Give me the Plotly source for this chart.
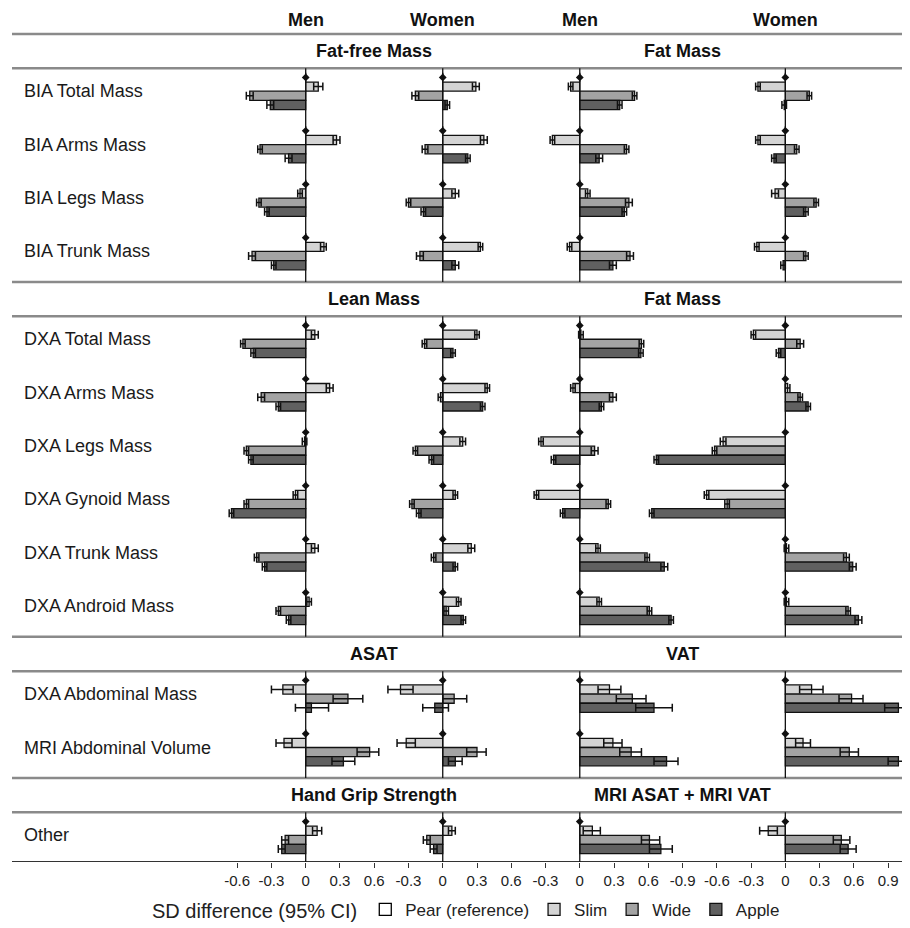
import plotly.graph_objects as go

# ---------------- data ----------------
row_labels = ["BIA Total Mass", "BIA Arms Mass", "BIA Legs Mass", "BIA Trunk Mass",
              "DXA Total Mass", "DXA Arms Mass", "DXA Legs Mass", "DXA Gynoid Mass",
              "DXA Trunk Mass", "DXA Android Mass",
              "DXA Abdominal Mass", "MRI Abdominal Volume", "Other"]
section_sizes = [4, 6, 2, 1]
left_strips = ["Fat-free Mass", "Lean Mass", "ASAT", "Hand Grip Strength"]
right_strips = ["Fat Mass", "Fat Mass", "VAT", "MRI ASAT + MRI VAT"]
panel_titles = ["Men", "Women", "Men", "Women"]
panel_ticks = [[-0.6, -0.3, 0, 0.3, 0.6],
               [-0.3, 0, 0.3, 0.6],
               [-0.3, 0, 0.3, 0.6],
               [-0.9, -0.6, -0.3, 0, 0.3, 0.6, 0.9]]
series_names = ["Slim", "Wide", "Apple"]

# Panel 1: Men, fat-free / lean / ASAT / grip
men_ffm_slim_est = [0.11, 0.27, -0.05, 0.16, 0.08, 0.21, -0.01, -0.09, 0.08, 0.03, -0.20, -0.19, 0.10]
men_ffm_slim_lo = [0.07, 0.24, -0.07, 0.13, 0.05, 0.18, -0.03, -0.11, 0.05, 0.01, -0.30, -0.26, 0.06]
men_ffm_slim_hi = [0.15, 0.30, -0.03, 0.18, 0.11, 0.24, 0.01, -0.07, 0.11, 0.05, -0.11, -0.12, 0.14]
men_ffm_wide_est = [-0.49, -0.40, -0.41, -0.47, -0.55, -0.39, -0.52, -0.52, -0.43, -0.24, 0.37, 0.56, -0.18]
men_ffm_wide_lo = [-0.52, -0.42, -0.43, -0.50, -0.57, -0.42, -0.54, -0.54, -0.45, -0.26, 0.24, 0.45, -0.21]
men_ffm_wide_hi = [-0.46, -0.38, -0.39, -0.44, -0.53, -0.36, -0.50, -0.50, -0.41, -0.22, 0.50, 0.64, -0.15]
men_ffm_apple_est = [-0.31, -0.15, -0.34, -0.28, -0.46, -0.24, -0.48, -0.65, -0.36, -0.15, 0.05, 0.33, -0.21]
men_ffm_apple_lo = [-0.34, -0.18, -0.36, -0.30, -0.48, -0.26, -0.50, -0.67, -0.38, -0.17, -0.09, 0.23, -0.24]
men_ffm_apple_hi = [-0.28, -0.12, -0.32, -0.26, -0.44, -0.22, -0.46, -0.63, -0.34, -0.13, 0.20, 0.43, -0.18]

# Panel 2: Women, fat-free / lean / ASAT / grip
women_ffm_slim_est = [0.29, 0.36, 0.11, 0.33, 0.30, 0.39, 0.175, 0.11, 0.25, 0.14, -0.37, -0.32, 0.08]
women_ffm_slim_lo = [0.26, 0.33, 0.08, 0.31, 0.28, 0.37, 0.15, 0.09, 0.22, 0.12, -0.48, -0.40, 0.05]
women_ffm_slim_hi = [0.32, 0.39, 0.14, 0.35, 0.32, 0.41, 0.20, 0.13, 0.28, 0.16, -0.26, -0.24, 0.11]
women_ffm_wide_est = [-0.24, -0.155, -0.30, -0.20, -0.16, -0.02, -0.24, -0.27, -0.08, 0.03, 0.10, 0.30, -0.14]
women_ffm_wide_lo = [-0.27, -0.18, -0.32, -0.23, -0.18, -0.04, -0.26, -0.29, -0.10, 0.01, 0.00, 0.21, -0.17]
women_ffm_wide_hi = [-0.21, -0.13, -0.28, -0.17, -0.14, 0.00, -0.22, -0.25, -0.06, 0.05, 0.21, 0.38, -0.11]
women_ffm_apple_est = [0.04, 0.22, -0.17, 0.11, 0.09, 0.35, -0.10, -0.21, 0.11, 0.18, -0.07, 0.11, -0.08]
women_ffm_apple_lo = [0.02, 0.20, -0.19, 0.08, 0.07, 0.33, -0.12, -0.23, 0.09, 0.16, -0.175, 0.05, -0.11]
women_ffm_apple_hi = [0.06, 0.24, -0.15, 0.14, 0.11, 0.37, -0.08, -0.19, 0.13, 0.20, 0.05, 0.17, -0.05]

# Panel 3: Men, fat / VAT / MRI ASAT+VAT
men_fm_slim_est = [-0.08, -0.24, 0.07, -0.09, 0.01, -0.06, -0.34, -0.38, 0.16, 0.17, 0.26, 0.29, 0.11]
men_fm_slim_lo = [-0.10, -0.26, 0.05, -0.11, -0.01, -0.08, -0.36, -0.40, 0.14, 0.15, 0.16, 0.21, 0.03]
men_fm_slim_hi = [-0.06, -0.22, 0.09, -0.07, 0.03, -0.04, -0.32, -0.36, 0.18, 0.19, 0.36, 0.37, 0.18]
men_fm_wide_est = [0.48, 0.41, 0.43, 0.44, 0.54, 0.29, 0.13, 0.25, 0.59, 0.61, 0.46, 0.45, 0.61]
men_fm_wide_lo = [0.46, 0.39, 0.40, 0.41, 0.52, 0.26, 0.10, 0.23, 0.57, 0.59, 0.32, 0.35, 0.54]
men_fm_wide_hi = [0.50, 0.43, 0.46, 0.47, 0.56, 0.32, 0.16, 0.27, 0.61, 0.63, 0.58, 0.54, 0.70]
men_fm_apple_est = [0.35, 0.17, 0.39, 0.29, 0.535, 0.19, -0.23, -0.15, 0.74, 0.80, 0.65, 0.76, 0.71]
men_fm_apple_lo = [0.33, 0.14, 0.37, 0.26, 0.515, 0.17, -0.25, -0.17, 0.71, 0.78, 0.49, 0.65, 0.61]
men_fm_apple_hi = [0.37, 0.20, 0.41, 0.32, 0.555, 0.21, -0.21, -0.13, 0.77, 0.82, 0.81, 0.86, 0.81]

# Panel 4: Women, fat / VAT / MRI ASAT+VAT
women_fm_slim_est = [-0.24, -0.24, -0.09, -0.25, -0.28, 0.02, -0.545, -0.69, 0.01, 0.01, 0.23, 0.155, -0.15]
women_fm_slim_lo = [-0.26, -0.26, -0.12, -0.27, -0.30, 0.00, -0.57, -0.71, -0.01, -0.01, 0.125, 0.09, -0.225]
women_fm_slim_hi = [-0.22, -0.22, -0.06, -0.23, -0.26, 0.04, -0.52, -0.67, 0.03, 0.03, 0.33, 0.22, -0.07]
women_fm_wide_est = [0.21, 0.10, 0.27, 0.18, 0.13, 0.13, -0.62, -0.51, 0.535, 0.55, 0.58, 0.56, 0.49]
women_fm_wide_lo = [0.19, 0.08, 0.25, 0.16, 0.10, 0.11, -0.64, -0.53, 0.51, 0.53, 0.47, 0.48, 0.42]
women_fm_wide_hi = [0.23, 0.12, 0.29, 0.20, 0.16, 0.15, -0.60, -0.49, 0.56, 0.57, 0.68, 0.64, 0.565]
women_fm_apple_est = [-0.01, -0.10, 0.18, -0.02, -0.06, 0.20, -1.13, -1.17, 0.59, 0.64, 0.99, 0.99, 0.55]
women_fm_apple_lo = [-0.03, -0.12, 0.16, -0.04, -0.08, 0.18, -1.15, -1.19, 0.56, 0.61, 0.87, 0.90, 0.48]
women_fm_apple_hi = [0.01, -0.08, 0.20, 0.00, -0.04, 0.22, -1.11, -1.15, 0.62, 0.67, 1.10, 1.06, 0.62]

panels = [
    {"Slim": (men_ffm_slim_est, men_ffm_slim_lo, men_ffm_slim_hi),
     "Wide": (men_ffm_wide_est, men_ffm_wide_lo, men_ffm_wide_hi),
     "Apple": (men_ffm_apple_est, men_ffm_apple_lo, men_ffm_apple_hi)},
    {"Slim": (women_ffm_slim_est, women_ffm_slim_lo, women_ffm_slim_hi),
     "Wide": (women_ffm_wide_est, women_ffm_wide_lo, women_ffm_wide_hi),
     "Apple": (women_ffm_apple_est, women_ffm_apple_lo, women_ffm_apple_hi)},
    {"Slim": (men_fm_slim_est, men_fm_slim_lo, men_fm_slim_hi),
     "Wide": (men_fm_wide_est, men_fm_wide_lo, men_fm_wide_hi),
     "Apple": (men_fm_apple_est, men_fm_apple_lo, men_fm_apple_hi)},
    {"Slim": (women_fm_slim_est, women_fm_slim_lo, women_fm_slim_hi),
     "Wide": (women_fm_wide_est, women_fm_wide_lo, women_fm_wide_hi),
     "Apple": (women_fm_apple_est, women_fm_apple_lo, women_fm_apple_hi)},
]

# ---------------- layout geometry (in page pixels) ----------------
PAGE_W, PAGE_H = 910, 928
BODY = 8                          # default page margin around the plot div
W, H = PAGE_W - BODY, PAGE_H - BODY
PX = 114.2                        # pixels per SD unit
X0 = 305.7                        # page x of first panel's zero
AXIS_Y = 865                      # page y of the bottom axis
panel_offsets = [0.0, 1.2, 2.4, 4.2]
x_range = [(BODY - X0) / PX, (PAGE_W - X0) / PX]

TOP = 34.0
STRIP = 34.5
PITCH = 53.6
ROW_OFF = 23.0
SLOT = 9.2

row_y, strip_tops, panel_spans = [], [], []
yy = TOP
for n in section_sizes:
    strip_tops.append(yy)
    ptop = yy + STRIP
    for i in range(n):
        row_y.append(ptop + ROW_OFF + i * PITCH)
    panel_spans.append((ptop, min(ptop + n * PITCH, AXIS_Y)))
    yy = ptop + n * PITCH


def px_to_paper_x(px):
    return (px - BODY) / W


FONT = "Liberation Sans, Arial, Helvetica, sans-serif"
colors = {"Pear (reference)": "#ffffff", "Slim": "#d4d4d4", "Wide": "#a3a3a3", "Apple": "#606060"}
slot_shift = {"Pear (reference)": -1.5, "Slim": -0.5, "Wide": 0.5, "Apple": 1.5}

fig = go.Figure()

# Pear (reference) - zero-length bars (legend entry)
pear_y, pear_base = [], []
for off in panel_offsets:
    for r in range(len(row_labels)):
        pear_y.append(row_y[r] + slot_shift["Pear (reference)"] * SLOT)
        pear_base.append(off)
fig.add_trace(go.Bar(
    x=[0] * len(pear_y), y=pear_y, base=pear_base, orientation="h",
    width=SLOT, name="Pear (reference)",
    marker=dict(color=colors["Pear (reference)"], line=dict(color="black", width=1.3)),
    hoverinfo="skip"))

for s in series_names:
    ys, xs, bases = [], [], []
    for p, off in enumerate(panel_offsets):
        est = panels[p][s][0]
        for r in range(len(row_labels)):
            ys.append(row_y[r] + slot_shift[s] * SLOT)
            xs.append(est[r])
            bases.append(off)
    fig.add_trace(go.Bar(
        x=xs, y=ys, base=bases, orientation="h", width=SLOT, name=s,
        marker=dict(color=colors[s], line=dict(color="#111111", width=1.3))))

# error bars (95% CI)
for s in series_names:
    ys, xs, ep, em = [], [], [], []
    for p, off in enumerate(panel_offsets):
        est, lo, hi = panels[p][s]
        for r in range(len(row_labels)):
            ys.append(row_y[r] + slot_shift[s] * SLOT)
            xs.append(off + est[r])
            ep.append(hi[r] - est[r])
            em.append(est[r] - lo[r])
    fig.add_trace(go.Scatter(
        x=xs, y=ys, mode="markers", showlegend=False, hoverinfo="skip",
        marker=dict(size=1, color="rgba(0,0,0,0)"),
        error_x=dict(type="data", symmetric=False, array=ep, arrayminus=em,
                     color="#111111", thickness=1.5, width=4)))

# pear reference points
px_, py_ = [], []
for off in panel_offsets:
    for r in range(len(row_labels)):
        px_.append(off)
        py_.append(row_y[r] + slot_shift["Pear (reference)"] * SLOT)
fig.add_trace(go.Scatter(x=px_, y=py_, mode="markers", showlegend=False, hoverinfo="skip",
                         marker=dict(symbol="diamond", size=6, color="#111111")))

# ---------------- shapes ----------------
shapes = []
LINE_X0 = px_to_paper_x(12)
for st in strip_tops:
    for yl in (st, st + STRIP):
        shapes.append(dict(type="line", xref="paper", yref="y", x0=LINE_X0, x1=1,
                           y0=yl, y1=yl, line=dict(color="#8a8a8a", width=2.5)))
shapes.append(dict(type="line", xref="paper", yref="y", x0=LINE_X0, x1=1,
                   y0=AXIS_Y, y1=AXIS_Y, line=dict(color="#333333", width=2.2)))
for (ptop, pbot) in panel_spans:
    for off in panel_offsets:
        shapes.append(dict(type="line", xref="x", yref="y", x0=off, x1=off,
                           y0=ptop, y1=pbot, line=dict(color="#111111", width=1.3),
                           layer="above"))

# ---------------- annotations ----------------
ann = []
HEAD = dict(size=18, color="#111111", family=FONT)
for t, off in zip(panel_titles, panel_offsets):
    ann.append(dict(x=off, y=20, xref="x", yref="y", text="<b>%s</b>" % t,
                    showarrow=False, font=HEAD))
left_center = (panel_offsets[0] + panel_offsets[1]) / 2
right_center = (panel_offsets[2] + panel_offsets[3]) / 2
for st, lt, rt in zip(strip_tops, left_strips, right_strips):
    yc = st + STRIP / 2
    ann.append(dict(x=left_center, y=yc, xref="x", yref="y", text="<b>%s</b>" % lt,
                    showarrow=False, font=HEAD))
    ann.append(dict(x=right_center, y=yc, xref="x", yref="y", text="<b>%s</b>" % rt,
                    showarrow=False, font=HEAD))
for lab, yc in zip(row_labels, row_y):
    ann.append(dict(x=px_to_paper_x(22), y=yc, xref="paper", yref="y", text=lab,
                    showarrow=False, xanchor="left",
                    font=dict(size=18, color="#1a1a1a", family=FONT)))

# ---------------- ticks ----------------
tickvals, ticktext = [], []
for off, tks in zip(panel_offsets, panel_ticks):
    for t in tks:
        tickvals.append(off + t)
        ticktext.append("0" if t == 0 else ("%g" % t))

fig.update_layout(
    width=W, height=H,
    margin=dict(l=0, r=0, t=0, b=PAGE_H - AXIS_Y),
    paper_bgcolor="white", plot_bgcolor="white",
    barmode="overlay",
    font=dict(family=FONT, size=15, color="#222222"),
    xaxis=dict(range=x_range, tickvals=tickvals, ticktext=ticktext, ticks="outside",
               ticklen=5, tickwidth=1.3, tickcolor="#333333", showgrid=False,
               zeroline=False, showline=False, tickfont=dict(size=15, color="#222222"),
               fixedrange=True),
    yaxis=dict(range=[AXIS_Y, BODY], visible=False, fixedrange=True),
    shapes=shapes, annotations=ann,
    legend=dict(orientation="h", x=px_to_paper_x(150), xanchor="left",
                y=(AXIS_Y - 913) / (AXIS_Y - BODY), yanchor="middle",
                title=dict(text="SD difference (95% CI)", side="left"),
                font=dict(size=17, color="#222222", family=FONT),
                itemwidth=30, traceorder="normal"),
    showlegend=True,
)

fig.write_html("out.html")
